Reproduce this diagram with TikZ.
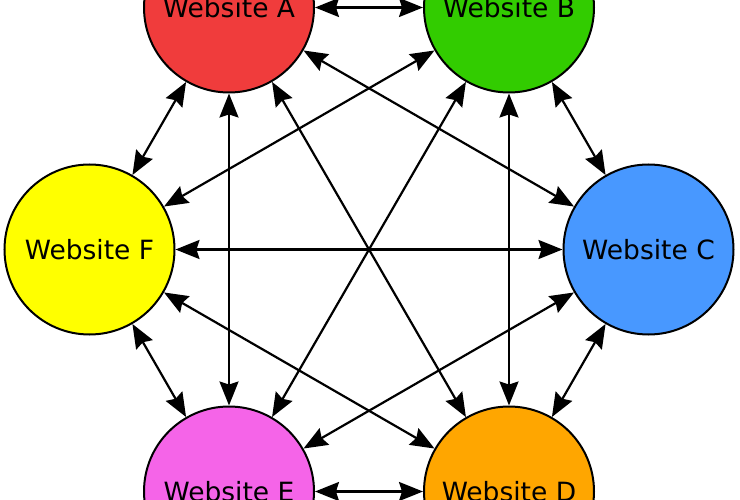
\documentclass[tikz,border=0pt]{standalone}
\usepackage{fontspec}
\setmainfont{DejaVu Sans}
\usetikzlibrary{arrows.meta}
\definecolor{colA}{RGB}{240,60,60}
\definecolor{colB}{RGB}{50,204,0}
\definecolor{colC}{RGB}{72,152,255}
\definecolor{colD}{RGB}{255,166,0}
\definecolor{colE}{RGB}{245,100,232}
\definecolor{colF}{RGB}{255,255,0}
\begin{document}
\begin{tikzpicture}[
  site/.style={circle, draw=black, line width=2pt, minimum size=170pt, inner sep=0pt,
    font=\fontsize{26.5}{30}\selectfont},
  linkarrow/.style={line width=2.2pt, arrows={Stealth[length=24pt,width=19pt,inset=3pt]-Stealth[length=24pt,width=19pt,inset=3pt]}}]
\useasboundingbox (0pt,0pt) rectangle (740pt,-500pt);
\clip (0pt,0pt) rectangle (740pt,-500pt);
\node[site, fill=colA] (A) at (229pt,-7.5pt) {Website A};
\node[site, fill=colB] (B) at (509pt,-7.5pt) {Website B};
\node[site, fill=colC] (C) at (648.5pt,-249.5pt) {Website C};
\node[site, fill=colD] (D) at (509pt,-491.5pt) {Website D};
\node[site, fill=colE] (E) at (229pt,-491.5pt) {Website E};
\node[site, fill=colF] (F) at (89.5pt,-249.5pt) {Website F};
\foreach \p/\q in {A/B,B/C,C/D,D/E,E/F,F/A,A/C,A/D,A/E,B/D,B/E,B/F,C/E,C/F,D/F}
  \draw[linkarrow] (\p) -- (\q);
\end{tikzpicture}
\end{document}
